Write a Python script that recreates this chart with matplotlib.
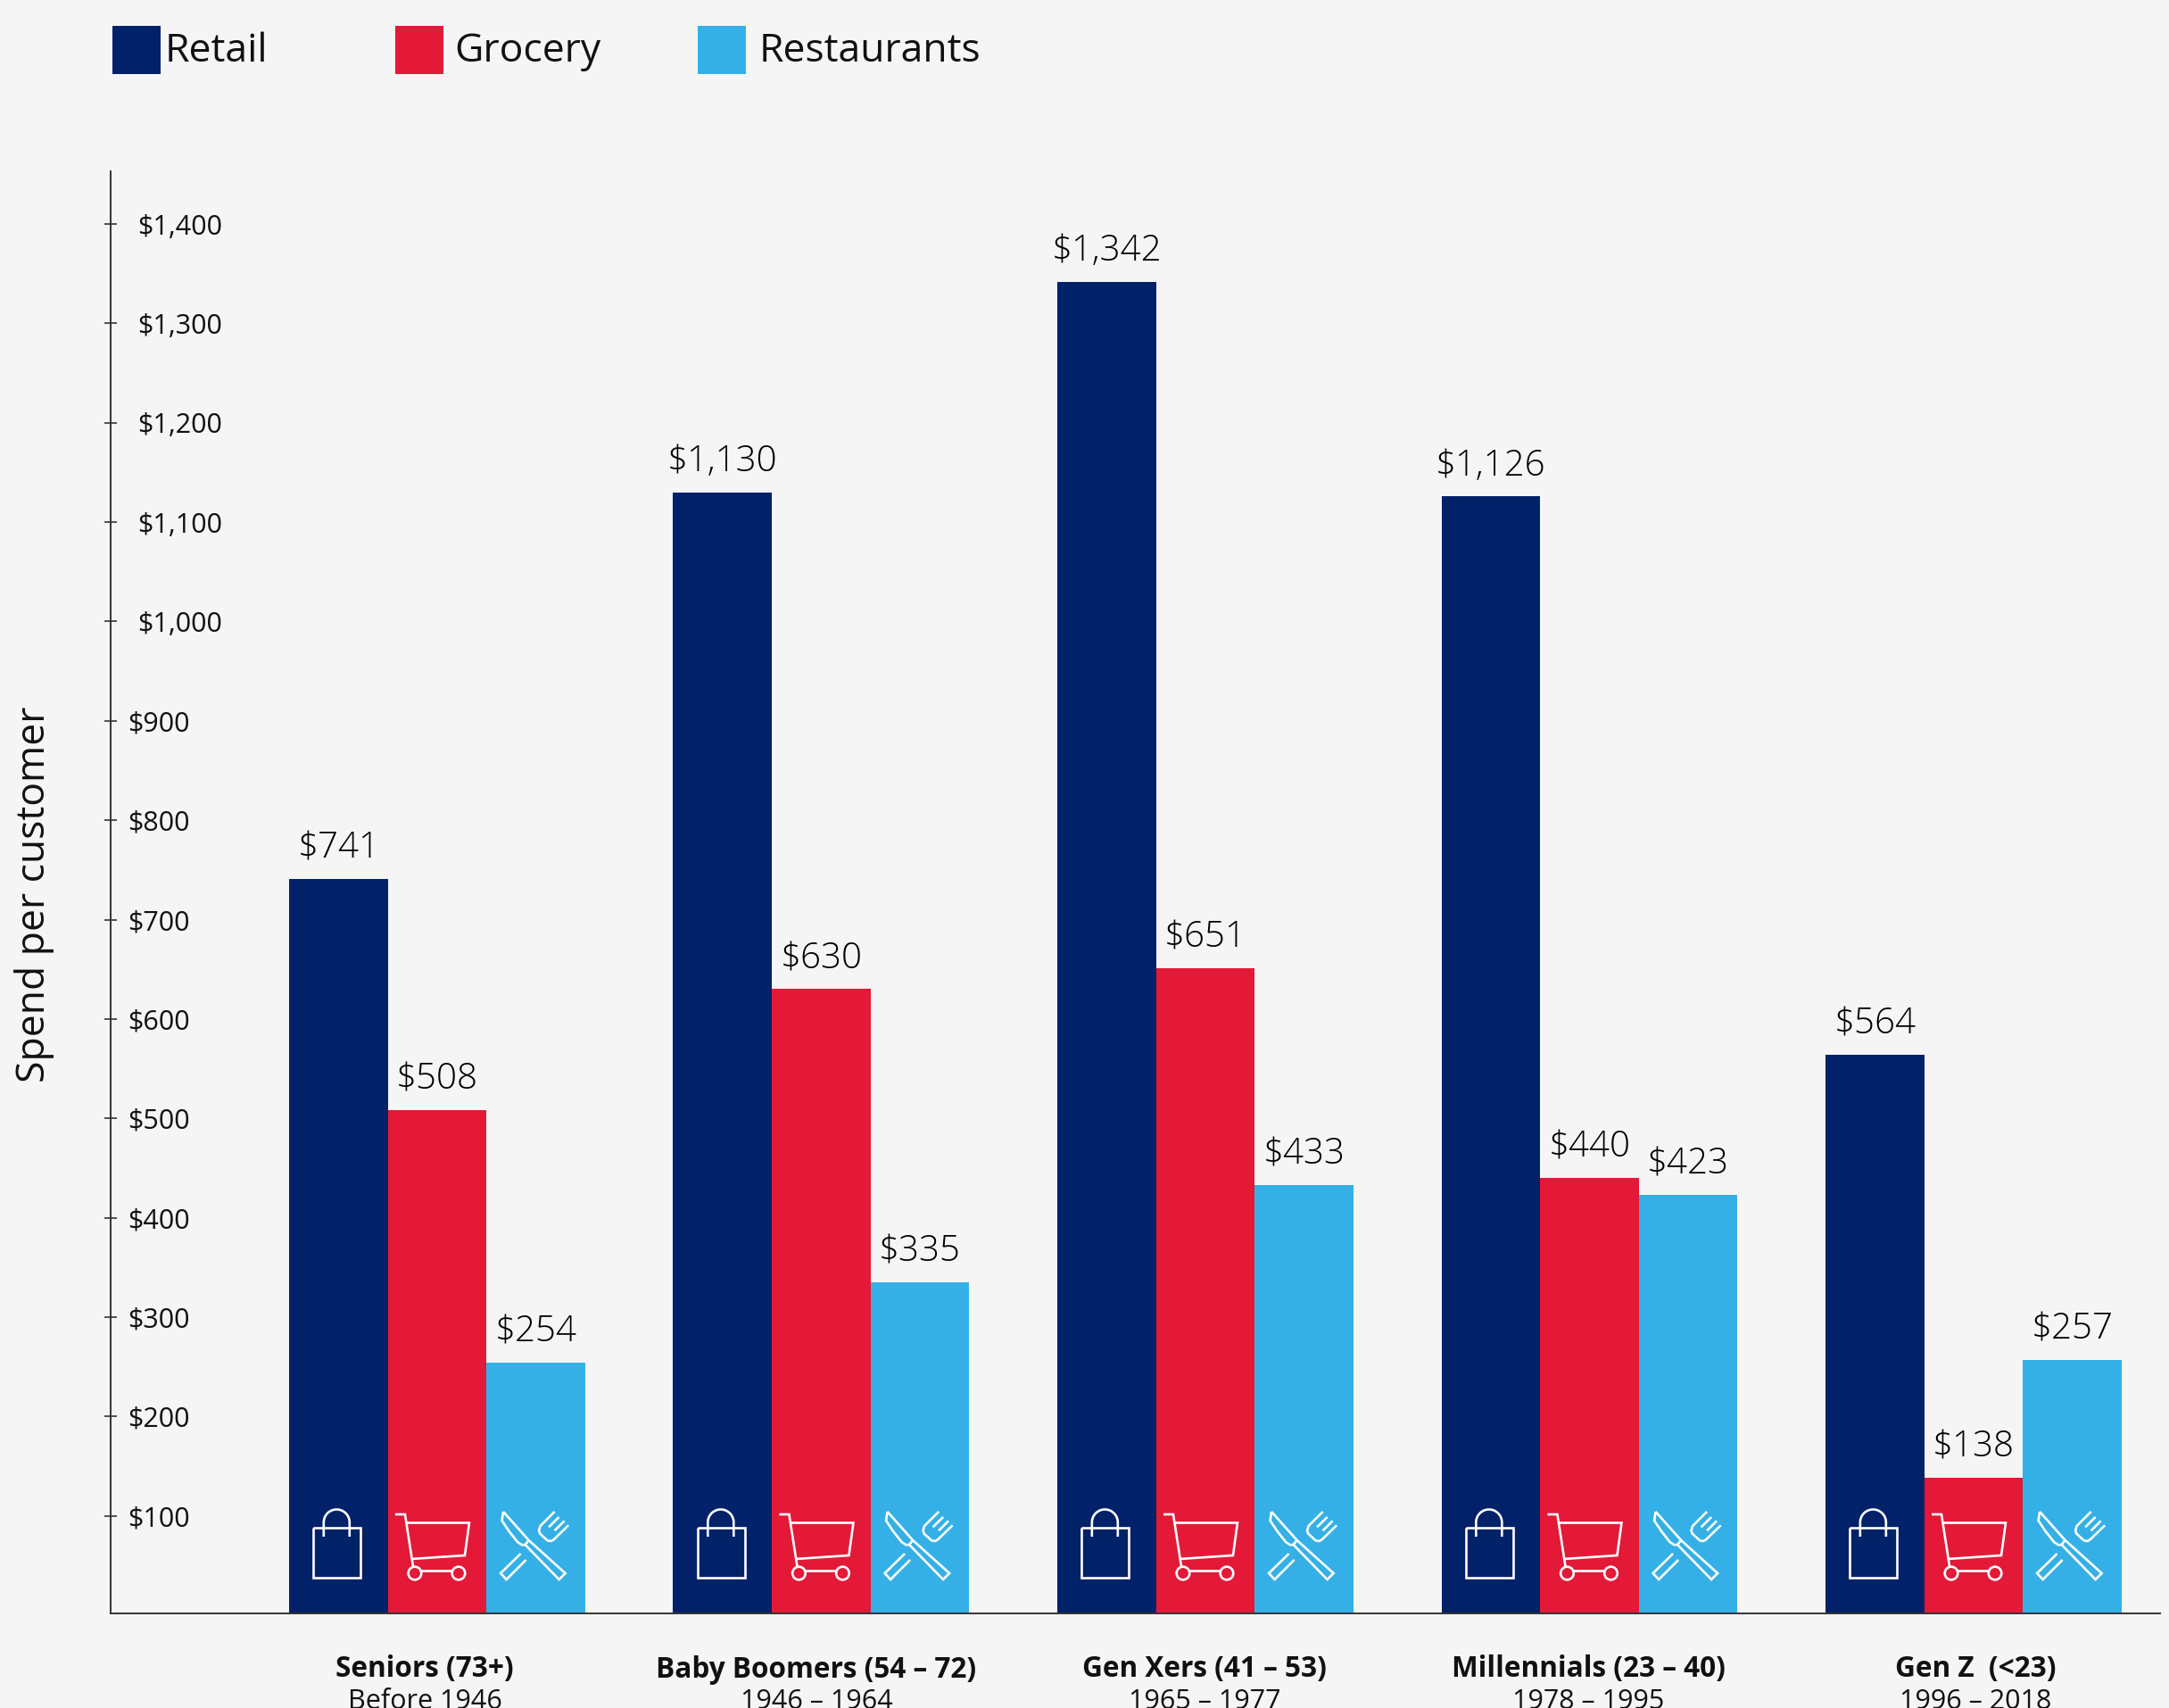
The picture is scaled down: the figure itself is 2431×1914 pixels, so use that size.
import numpy as np
import matplotlib
matplotlib.use('Agg')
import matplotlib.pyplot as plt
from matplotlib.patches import Rectangle, Circle
from matplotlib.transforms import Affine2D, ScaledTranslation

W, H = 2431, 1914

generations = ['Seniors (73+)', 'Baby Boomers (54 – 72)', 'Gen Xers (41 – 53)',
               'Millennials (23 – 40)', 'Gen Z  (<23)']
birth_years = ['Before 1946', '1946 – 1964', '1965 – 1977', '1978 – 1995', '1996 – 2018']
retail = [741, 1130, 1342, 1126, 564]
grocery = [508, 630, 651, 440, 138]
restaurants = [254, 335, 433, 423, 257]
y_ticks = list(range(100, 1500, 100))

NAVY = '#012169'
RED = '#E31937'
BLUE = '#34B0E6'
BG = '#F5F5F5'
INK = '#111111'

plt.rcParams['font.family'] = ['Open Sans', 'DejaVu Sans']

fig = plt.figure(figsize=(W / 100, H / 100), dpi=100, facecolor=BG)
ax = fig.add_axes([124 / W, (H - 1808) / H, (2421 - 124) / W, (1808 - 192) / H], facecolor=BG)

x = np.arange(len(generations))
bar_w = 0.257
series = [(retail, NAVY, -1), (grocery, RED, 0), (restaurants, BLUE, 1)]
for values, color, k in series:
    ax.bar(x + k * bar_w, values, bar_w, color=color, linewidth=0)
    for xi, v in zip(x, values):
        ax.text(xi + k * bar_w, v + 12, f'${v:,}', ha='center', va='bottom', fontsize=29,
                color='black', fontweight=300)

ax.set_xlim(-0.850, 4.4855)
ax.set_ylim(1.8, 1453)

for s in ['top', 'right']:
    ax.spines[s].set_visible(False)
for s in ['left', 'bottom']:
    ax.spines[s].set_color('#333333')
    ax.spines[s].set_linewidth(1.4)
    ax.spines[s].set_zorder(5)

ax.set_xticks([])
ax.set_yticks(y_ticks)
ax.set_yticklabels([f'${t:,}' for t in y_ticks])
ax.tick_params(axis='y', direction='inout', length=10, width=1.2, color='#333333',
               labelsize=22, labelcolor=INK, pad=-27)
for tick, label in zip(y_ticks, ax.get_yticklabels()):
    label.set_ha('left')
    if tick < 1000:
        # three digit labels sit a little further left
        label.set_transform(label.get_transform() + ScaledTranslation(-11 / 100, 0, fig.dpi_scale_trans))

fig.text(39 / W, 1 - 1002 / H, 'Spend per customer', rotation=90, ha='center', va='center',
         fontsize=32, color=INK)

# generation names under the axis
label_x = [476, 915, 1350, 1780, 2214]
for lx, name, years in zip(label_x, generations, birth_years):
    fig.text(lx / W, 1 - 1871 / H, name, ha='center', va='center', fontsize=22.7,
             fontweight='bold', color=INK)
    fig.text(lx / W, 1 - 1907 / H, years, ha='center', va='center', fontsize=22, color=INK)

# legend row
legend_items = [('Retail', NAVY, 126, 185), ('Grocery', RED, 443, 509), ('Restaurants', BLUE, 782, 851)]
for name, color, box_x, text_x in legend_items:
    fig.add_artist(Rectangle((box_x / W, 1 - 83 / H), 54 / W, 54 / H, transform=fig.transFigure,
                             facecolor=color, edgecolor='none'))
    fig.text(text_x / W, 1 - 58 / H, name, ha='left', va='center', fontsize=32, color=INK)


# icon outlines, in pixels from the bar centre and up from the baseline
def icon_line(pts, to, close=False):
    xs, ys = zip(*pts)
    if close:
        xs, ys = xs + xs[:1], ys + ys[:1]
    ax.plot(xs, ys, color='white', lw=1.9, transform=to, clip_on=False, solid_joinstyle='miter',
            solid_capstyle='butt', zorder=4)


def draw_bag(to):
    icon_line([(-28, 96), (25, 96), (25, 40), (-28, 40)], to, close=True)
    arc = np.linspace(np.pi, 0, 30)
    handle = [(-2 + 14.5 * np.cos(a), 102 + 14.5 * np.sin(a)) for a in arc]
    icon_line([(-16.5, 86)] + handle + [(12.5, 86)], to)


def draw_cart(to):
    icon_line([(-47, 111), (-36, 111), (-27, 53)], to)
    icon_line([(-34, 101.5), (36, 101.5), (31, 65), (-29, 61)], to)
    icon_line([(-18, 48), (17, 48)], to)
    for cx in (-25, 24):
        ax.add_patch(Circle((cx, 45), 7.3, fill=False, edgecolor='white', lw=1.9, transform=to,
                            clip_on=False, zorder=4))


def draw_cutlery(to):
    # knife
    icon_line([(-36.5, 114), (-38, 104), (-30, 92), (-20.5, 80), (-15.5, 76.7), (-12, 77), (-8, 82)], to)
    icon_line([(-36.5, 114), (-8, 82), (33, 45), (26, 38), (-12, 77)], to)
    icon_line([(-17, 67), (-39.5, 45), (-33, 38), (-11, 60)], to)
    # fork head and tines
    icon_line([(21, 114), (5, 98), (3.5, 93), (4.5, 89.5), (13, 81.7), (17, 81), (20, 82.7), (36.5, 98.7)], to)
    icon_line([(26, 108), (14.5, 96.7)], to)
    icon_line([(32, 103.7), (21, 92.7)], to)


fig.canvas.draw()
base_px = ax.transAxes.transform((0, 0))[1]
for xi in x:
    for k, draw in zip((-1, 0, 1), (draw_bag, draw_cart, draw_cutlery)):
        cx_px = ax.transData.transform((xi + k * bar_w, 0))[0]
        draw(Affine2D().translate(cx_px, base_px))

fig.savefig('out.png', dpi=100, facecolor=BG)
